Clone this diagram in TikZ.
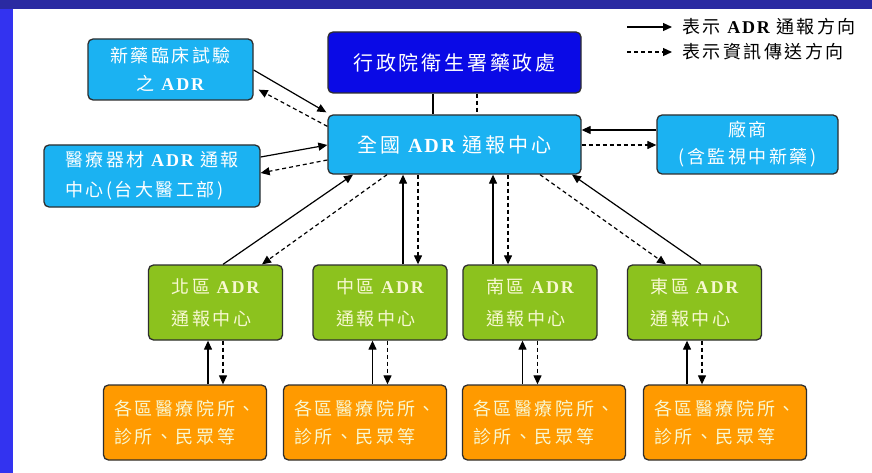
\documentclass[tikz,border=0pt]{standalone}
\usepackage{fontspec}
\setmainfont{Liberation Serif}[LetterSpace=10]
\newfontfamily\cjk{Noto Sans CJK TC}[LetterSpace=14]
\usetikzlibrary{arrows.meta,calc}
\newcommand\adr{{\rmfamily\bfseries ADR}}

\definecolor{frametop}{HTML}{2A2AA2}
\definecolor{frameleft}{HTML}{3333F0}
\definecolor{govblue}{HTML}{0A0AE6}
\definecolor{cyanfill}{HTML}{1BB2F2}
\definecolor{greenfill}{HTML}{8CC21E}
\definecolor{orangefill}{HTML}{FF9A00}
\definecolor{edgegray}{HTML}{2E2E2E}
\definecolor{cream}{HTML}{F8F8D2}

\tikzset{
  box/.style={draw=edgegray, line width=1.3pt, rounded corners=5pt,
    inner sep=0pt, text=white, align=center},
  govbox/.style={box, fill=govblue, font=\fontsize{20}{26}\cjk},
  natbox/.style={box, fill=cyanfill, font=\fontsize{20}{26}\cjk},
  sidebox/.style={box, fill=cyanfill, font=\fontsize{18}{28}\cjk},
  areabox/.style={box, fill=greenfill, text=cream, align=left,
    minimum width=134pt, minimum height=75pt, font=\fontsize{18}{32}\cjk},
  sitebox/.style={box, fill=orangefill, text=cream, align=left,
    minimum width=163pt, minimum height=75pt, font=\fontsize{18}{28}\cjk},
  legendtext/.style={inner sep=0pt, anchor=west, text=black, font=\fontsize{18}{20}\cjk},
  plainline/.style={line width=1.2pt},
  dashline/.style={line width=1.2pt, dash pattern=on 4pt off 3pt},
  report/.style={plainline, -{Triangle[length=9pt,width=8pt]}},
  info/.style={dashline, -{Triangle[length=9pt,width=8pt]}},
}

\begin{document}
\begin{tikzpicture}[x=1pt, y=-1pt]
  % page and frame
  \useasboundingbox (0,0) rectangle (872,473);
  \fill[white] (0,0) rectangle (872,473);
  \fill[frametop] (0,0) rectangle (872,9);
  \fill[frameleft] (0,9) rectangle (13,473);

  % upper row
  \node[sidebox, minimum width=165pt, minimum height=61pt] (trial) at (170.5,69.5)
    {新藥臨床試驗\\之 \adr};
  \node[govbox, minimum width=253pt, minimum height=61pt] (doh) at (454.5,62.5)
    {行政院衛生署藥政處};
  \node[natbox, minimum width=253pt, minimum height=59pt] (nat) at (454.5,144.5)
    {全國 \adr\ 通報中心};
  \node[sidebox, align=left, minimum width=216pt, minimum height=62pt,
    font=\fontsize{18}{30}\cjk] (device) at (152,176)
    {醫療器材 \adr\ 通報\\中心(台大醫工部)};
  \node[sidebox, minimum width=181pt, minimum height=59pt,
    font=\fontsize{18}{27}\cjk] (vendor) at (747.5,144.5)
    {廠商\\(含監視中新藥)};

  % regional centres
  \node[areabox] (g1) at (215.5,302.5) {北區 \adr\\通報中心};
  \node[areabox] (g2) at (380,302.5)   {中區 \adr\\通報中心};
  \node[areabox] (g3) at (530,302.5)   {南區 \adr\\通報中心};
  \node[areabox] (g4) at (694.5,302.5) {東區 \adr\\通報中心};

  % hospitals, clinics and the public
  \node[sitebox] (o1) at (185,422.5) {各區醫療院所、\\診所、民眾等};
  \node[sitebox] (o2) at (365,422.5) {各區醫療院所、\\診所、民眾等};
  \node[sitebox] (o3) at (544,422.5) {各區醫療院所、\\診所、民眾等};
  \node[sitebox] (o4) at (725,422.5) {各區醫療院所、\\診所、民眾等};

  % legend
  \node[legendtext] (leg1) at (682,27) {表示 \adr\ 通報方向};
  \node[legendtext] (leg2) at (682,52) {表示資訊傳送方向};
  \coordinate (leg1s) at (627,27);
  \coordinate (leg2s) at (627,52);
  \draw[report] (leg1s) -- ([xshift=-10pt]leg1.west);
  \draw[info]   (leg2s) -- ([xshift=-10pt]leg2.west);

  % administration and national centre
  \draw[plainline] ([xshift=-21.5pt]doh.south) -- ([xshift=-21.5pt]nat.north);
  \draw[dashline]  ([xshift=22.5pt]doh.south) -- ([xshift=22.5pt]nat.north);

  % clinical trials
  \draw[report] ([yshift=-0.5pt]trial.east) -- ([xshift=-1pt,yshift=2pt]nat.north west);
  \draw[info] ([yshift=-12pt]nat.north west) -- ([xshift=5pt,yshift=11pt]trial.south east);

  % medical devices
  \draw[report] ([yshift=19pt]device.east) -- ([yshift=-0.5pt]nat.west);
  \draw[info] ([yshift=-15.5pt]nat.west) -- ([yshift=3pt]device.east);

  % manufacturers
  \draw[report] ([yshift=14.5pt]vendor.west) -- ([yshift=14.5pt]nat.east);
  \draw[info] ([yshift=-0.5pt]nat.east) -- ([yshift=-0.5pt]vendor.west);

  % northern and eastern centres
  \draw[report] ([xshift=7.5pt]g1.north) -- ([xshift=-101.5pt]nat.south);
  \draw[info] ([xshift=-67.5pt]nat.south) -- ([xshift=46.5pt]g1.north);
  \draw[report] ([xshift=6.5pt]g4.north) -- ([xshift=117.5pt]nat.south);
  \draw[info] ([xshift=85.5pt]nat.south) -- ([xshift=-28.5pt]g4.north);

  % central and southern centres
  \coordinate (c2u) at ([xshift=23pt]g2.north);
  \coordinate (c2d) at ([xshift=38pt]g2.north);
  \coordinate (c3u) at ([xshift=-37pt]g3.north);
  \coordinate (c3d) at ([xshift=-22pt]g3.north);
  \draw[report] (c2u) -- (c2u |- nat.south);
  \draw[info] (c2d |- nat.south) -- (c2d);
  \draw[report] (c3u) -- (c3u |- nat.south);
  \draw[info] (c3d |- nat.south) -- (c3d);

  % regional centres and local reporters
  \foreach \i in {1,2,3,4} {
    \coordinate (u\i) at ([xshift=-7.5pt]g\i.south);
    \coordinate (d\i) at ([xshift=7.5pt]g\i.south);
    \draw[report] (u\i |- o\i.north) -- (u\i);
    \draw[info] (d\i) -- (d\i |- o\i.north);
  }
\end{tikzpicture}
\end{document}
